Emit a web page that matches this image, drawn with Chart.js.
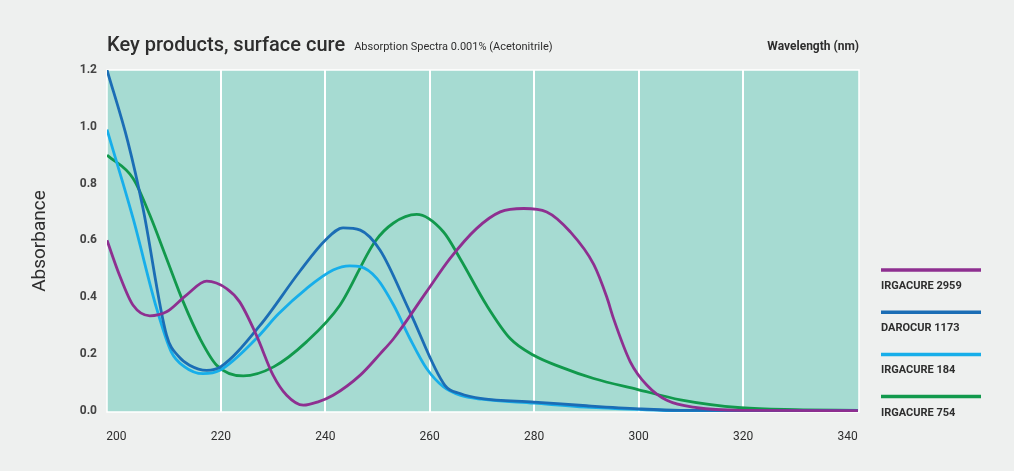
<!DOCTYPE html>
<html>
<head>
<meta charset="utf-8">
<script src="https://cdn.jsdelivr.net/npm/chart.js@4"></script>
<style>
  html, body { margin: 0; padding: 0; background: #eef0ef; }
  #wrap { width: 1014px; height: 471px; position: relative; }
</style>
</head>
<body>
<div id="wrap"><canvas id="spectra-chart"></canvas></div>
<script>
// tick labels
const xTicks = [200, 220, 240, 260, 280, 300, 320, 340];
const yTicks = [0, 0.2, 0.4, 0.6, 0.8, 1.0, 1.2];

// series names
const names = ["IRGACURE 2959", "DAROCUR 1173", "IRGACURE 184", "IRGACURE 754"];

// IRGACURE 2959
const wl2959 = [198.2, 200.6, 203.2, 206.4, 209.6, 213.4, 217.3, 221.1, 223.6, 226.8, 230, 232.6, 235.8, 238.5, 241.5, 246.7, 250.5, 253.1, 259.4, 263.9, 269, 273.5, 278, 282.4, 286.9, 291.4, 293.9, 295.2, 298.4, 301.6, 305.4, 311.2, 319.6, 342];
const abs2959 = [0.60, 0.477, 0.371, 0.334, 0.348, 0.407, 0.456, 0.43, 0.383, 0.266, 0.125, 0.054, 0.019, 0.03, 0.054, 0.125, 0.2, 0.254, 0.419, 0.536, 0.642, 0.70, 0.712, 0.70, 0.63, 0.515, 0.40, 0.324, 0.172, 0.089, 0.036, 0.01, 0.001, 0];

// DAROCUR 1173
const wl1173 = [198.2, 202.2, 205.1, 209.6, 212, 214, 217.3, 220, 227.5, 235.1, 240, 243.4, 246.7, 250.5, 256.2, 262.9, 265.8, 270, 280, 290, 300, 308, 342];
const abs1173 = [1.20, 0.947, 0.712, 0.266, 0.189, 0.16, 0.142, 0.155, 0.30, 0.49, 0.60, 0.644, 0.636, 0.565, 0.348, 0.089, 0.06, 0.042, 0.03, 0.017, 0.006, 0.001, 0];

// IRGACURE 184
const wl184 = [198.2, 203.2, 207.7, 210.5, 213, 216.6, 219.8, 226.8, 231, 236.4, 241.5, 244.7, 246.7, 249.9, 253.1, 256.2, 259.4, 262.6, 265.8, 270, 280, 290, 300, 308, 342];
const abs184 = [0.99, 0.677, 0.36, 0.207, 0.155, 0.13, 0.142, 0.254, 0.34, 0.43, 0.495, 0.51, 0.507, 0.465, 0.371, 0.254, 0.148, 0.084, 0.054, 0.04, 0.026, 0.012, 0.004, 0, 0];

// IRGACURE 754
const wl754 = [198.2, 203.2, 206.4, 209.6, 212.8, 216, 219.2, 224.3, 230.1, 236.4, 242.8, 249.5, 253, 257.5, 262.6, 265.8, 270.9, 275.4, 279.9, 285, 291.4, 299.7, 308, 319.6, 330, 342];
const abs754 = [0.90, 0.818, 0.689, 0.536, 0.383, 0.254, 0.16, 0.122, 0.154, 0.242, 0.371, 0.595, 0.66, 0.691, 0.63, 0.536, 0.371, 0.254, 0.195, 0.154, 0.113, 0.075, 0.038, 0.01, 0.003, 0.001];

const colors = ["#8e2f90", "#1b6db5", "#17aeea", "#11994c"];

function pts(xs, ys) {
  return xs.map((x, i) => ({ x: x, y: ys[i] }));
}

const series = [pts(wl2959, abs2959), pts(wl1173, abs1173), pts(wl184, abs184), pts(wl754, abs754)];

const canvas = document.getElementById("spectra-chart");
canvas.width = 1014;
canvas.height = 471;

// page + plot background
const backdrop = {
  id: "backdrop",
  beforeDraw(chart) {
    const c = chart.ctx, a = chart.chartArea;
    c.save();
    c.fillStyle = "#eef0ef";
    c.fillRect(0, 0, chart.width, chart.height);
    c.fillStyle = "#a6dbd2";
    c.fillRect(a.left, a.top, a.right - a.left, a.bottom - a.top);
    c.strokeStyle = "#ffffff";
    c.lineWidth = 1.5;
    c.strokeRect(a.left, a.top, a.right - a.left, a.bottom - a.top);
    c.restore();
  }
};

// title line and legend
const texts = {
  id: "texts",
  afterDraw(chart) {
    const c = chart.ctx, a = chart.chartArea;
    c.save();
    c.fillStyle = "#2e2e2e";
    c.textBaseline = "alphabetic";
    c.textAlign = "left";
    c.font = "500 20px Roboto";
    c.fillText("Key products, surface cure", a.left, 51);
    const w = c.measureText("Key products, surface cure").width;
    c.font = "11px Roboto";
    c.fillText("Absorption Spectra 0.001% (Acetonitrile)", a.left + w + 9, 50);
    c.font = "bold 12px Roboto";
    c.textAlign = "right";
    c.fillText("Wavelength (nm)", a.right, 50);

    // legend: line over label
    c.textAlign = "left";
    c.font = "bold 11px Roboto";
    const lx = a.right + 22;
    names.forEach((n, i) => {
      const ly = 270 + i * 42.2;
      c.strokeStyle = colors[i];
      c.lineWidth = 3.5;
      c.beginPath();
      c.moveTo(lx, ly);
      c.lineTo(lx + 100, ly);
      c.stroke();
      c.fillStyle = "#2e2e2e";
      c.fillText(n, lx, ly + 19);
    });
    c.restore();
  }
};

const config = {
  type: "line",
  data: {
    datasets: series.map((d, i) => ({
      label: names[i],
      data: d,
      borderColor: colors[i],
      backgroundColor: colors[i],
      borderWidth: 2.8,
      pointRadius: 0,
      fill: false,
      cubicInterpolationMode: "monotone"
    }))
  },
  options: {
    responsive: false,
    animation: false,
    layout: { padding: { top: 70, right: 155, bottom: 29, left: 0 } },
    plugins: {
      legend: { display: false },
      tooltip: { enabled: false },
      title: { display: false }
    },
    scales: {
      x: {
        type: "linear",
        min: 198.2,
        max: 342.2,
        afterBuildTicks: (s) => { s.ticks = xTicks.map(v => ({ value: v })); },
        afterFit: (s) => { s.height = 30; },
        border: { display: false },
        grid: {
          drawTicks: false,
          lineWidth: 2,
          color: (ctx) => (ctx.tick && (ctx.tick.value === 200 || ctx.tick.value === 340)) ? "rgba(0,0,0,0)" : "#ffffff"
        },
        ticks: {
          padding: 18,
          color: "#2e2e2e",
          font: { family: "Roboto", size: 12 },
          maxRotation: 0,
          callback: (v) => String(v)
        }
      },
      y: {
        min: -0.005,
        max: 1.2,
        afterBuildTicks: (s) => { s.ticks = yTicks.map(v => ({ value: v })); },
        afterFit: (s) => { s.width = 107; },
        border: { display: false },
        grid: { display: false, drawTicks: false },
        title: {
          display: true,
          text: "Absorbance",
          color: "#2e2e2e",
          font: { family: "Roboto", size: 19 },
          padding: { top: 29, bottom: 0 }
        },
        ticks: {
          padding: 10,
          color: "#444444",
          font: { family: "Roboto", size: 12, weight: "bold" },
          callback: (v) => v.toFixed(1)
        }
      }
    }
  },
  plugins: [backdrop, texts]
};

var myChart = new Chart(canvas.getContext("2d"), config);
</script>
</body>
</html>
